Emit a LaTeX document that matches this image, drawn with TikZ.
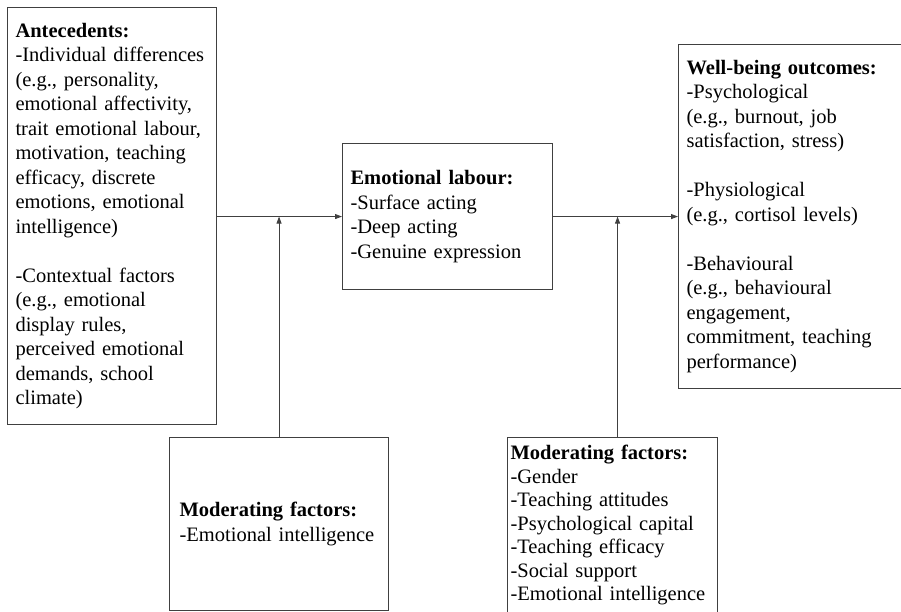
\documentclass[tikz,border=0pt]{standalone}
\usepackage{fontspec}
\setmainfont{Liberation Serif}
\usetikzlibrary{arrows.meta,positioning}
\tikzset{>={Triangle[length=7pt,width=5pt]}}
\tikzset{
  frame/.style={draw=black!75, line width=1.1pt, rectangle, anchor=north west,
    align=left, inner xsep=8pt, inner ysep=0pt,
    font=\fontsize{20.5}{24.5}\selectfont},
  link/.style={draw=black!75, line width=0.9pt, ->}
}

\begin{document}
\begin{tikzpicture}[x=1pt,y=-1pt]
\useasboundingbox (0,0) rectangle (901,611);
% boxes
\node[frame, text width=193pt, minimum height=417pt] (ante) at (7,7)
  {\textbf{Antecedents:}\\
   -Individual differences\\
   (e.g., personality,\\
   emotional affectivity,\\
   trait emotional labour,\\
   motivation, teaching\\
   efficacy, discrete\\
   emotions, emotional\\
   intelligence)\\[24.5pt]
   -Contextual factors\\
   (e.g., emotional\\
   display rules,\\
   perceived emotional\\
   demands, school\\
   climate)};
\node[frame, text width=194pt, minimum height=146pt] (labour) at (342,143)
  {\textbf{Emotional labour:}\\
   -Surface acting\\
   -Deep acting\\
   -Genuine expression};
\node[frame, text width=224pt, minimum height=344pt] (wellbeing) at (678,44)
  {\textbf{Well-being outcomes:}\\
   -Psychological\\
   (e.g., burnout, job\\
   satisfaction, stress)\\[24.5pt]
   -Physiological\\
   (e.g., cortisol levels)\\[24.5pt]
   -Behavioural\\
   (e.g., behavioural\\
   engagement,\\
   commitment, teaching\\
   performance)};
\node[frame, inner xsep=10pt, text width=199pt, minimum height=173pt] (modone) at (169,437)
  {\textbf{Moderating factors:}\\
   -Emotional intelligence};
\node[frame, inner xsep=3pt, text width=204pt, minimum height=175pt,
  font=\fontsize{20.5}{23.5}\selectfont] (modtwo) at (507,437)
  {\textbf{Moderating factors:}\\
   -Gender\\
   -Teaching attitudes\\
   -Psychological capital\\
   -Teaching efficacy\\
   -Social support\\
   -Emotional intelligence};
% arrows
\draw[link] (ante.east |- labour.west) -- (labour.west);
\draw[link] (labour.east) -- (wellbeing.west);
\draw[link] (modone.north) -- (modone.north |- labour.west);
\draw[link] ([xshift=5pt]modtwo.north) -- ([xshift=5pt]modtwo.north |- labour.east);
\end{tikzpicture}
\end{document}
